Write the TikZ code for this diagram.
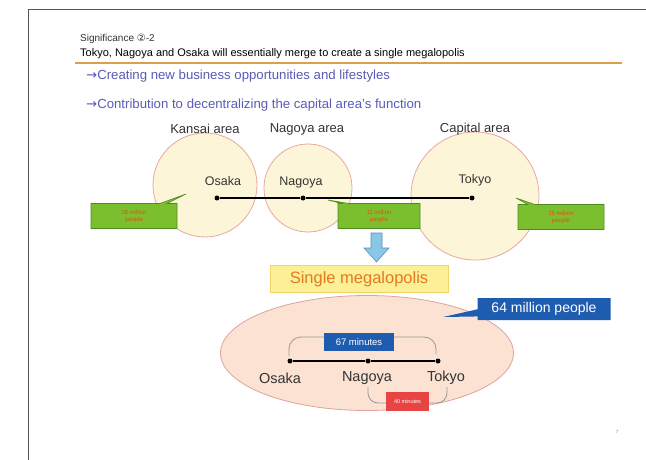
\documentclass[tikz,border=0pt]{standalone}
\usepackage{fontspec}
\setmainfont{Liberation Sans}
\newfontfamily\symfont{DejaVu Sans}
\usetikzlibrary{shapes.callouts,shapes.geometric}
\definecolor{framegray}{HTML}{555555}
\definecolor{rulecol}{HTML}{D9A050}
\definecolor{subblue}{HTML}{5B5BB8}
\definecolor{areafill}{HTML}{FDF5D8}
\definecolor{areadraw}{HTML}{E8A8A0}
\definecolor{callgreen}{HTML}{7CBF2E}
\definecolor{callgreendark}{HTML}{4E8A22}
\definecolor{calltext}{HTML}{E0501A}
\definecolor{arrowblue}{HTML}{86C8E6}
\definecolor{arrowdraw}{HTML}{5A8FB8}
\definecolor{megafill}{HTML}{FBF096}
\definecolor{megadraw}{HTML}{F2D46A}
\definecolor{megatext}{HTML}{E27A22}
\definecolor{ellfill}{HTML}{FBE2D2}
\definecolor{elldraw}{HTML}{E0A2A0}
\definecolor{bigblue}{HTML}{1E5CB0}
\definecolor{minred}{HTML}{E84444}
\definecolor{textgray}{HTML}{333333}
\definecolor{bracketgray}{HTML}{999999}
\tikzset{
  area/.style={circle, fill=areafill, draw=areadraw, line width=0.8pt},
  arealabel/.style={font=\fontsize{13}{15}\selectfont, text=textgray},
  citylabel/.style={font=\fontsize{12.5}{14}\selectfont, text=textgray},
  citylabelb/.style={font=\fontsize{14.5}{16}\selectfont, text=textgray},
  dot/.style={circle, fill=black, inner sep=0pt, minimum size=5pt},
  greencall/.style={rectangle callout, fill=callgreen, draw=callgreendark, line width=0.6pt,
    minimum width=86pt, minimum height=25pt, inner sep=1pt, align=center,
    font=\fontsize{6}{7}\selectfont, text=calltext},
  subline/.style={font=\fontsize{13.2}{15}\selectfont, text=subblue, anchor=west},
  bracket/.style={bracketgray, line width=0.8pt},
}
\begin{document}
\begin{tikzpicture}[x=1pt,y=-1pt]
\useasboundingbox (0,0) rectangle (646,460);
\fill[white] (0,0) rectangle (646,460);
% frame
\draw[framegray, line width=1pt] (28,460) -- (28,10) -- (646,10);
% titles
\node[anchor=west, font=\fontsize{10}{12}\selectfont, text=textgray, inner xsep=0pt] (sig) at (80,39) {Significance {\symfont ②}-2};
\node[anchor=west, font=\fontsize{11}{13}\selectfont, text=black, inner xsep=0pt] (ttl) at (80,54) {Tokyo, Nagoya and Osaka will essentially merge to create a single megalopolis};
\draw[rulecol, line width=1.2pt] (75,63) -- (622,63);
\node[subline, inner xsep=0pt] (s1) at (86,76) {{\symfont →}Creating new business opportunities and lifestyles};
\node[subline, inner xsep=0pt] (s2) at (86,105) {{\symfont →}Contribution to decentralizing the capital area's function};
% area circles
\node[area, minimum size=104pt] (kc) at (205,185) {};
\node[area, minimum size=88pt] (nc) at (308,188) {};
\node[area, minimum size=128pt] (tc) at (475,196) {};
\node[arealabel] (kl) at (205,129) {Kansai area};
\node[arealabel] (nl) at (307,129) {Nagoya area};
\node[arealabel] (tl) at (475,129) {Capital area};
\node[citylabel] (osl) at (223,181) {Osaka};
\node[citylabel] (ngl) at (301,182) {Nagoya};
\node[citylabel] (tkl) at (475,180) {Tokyo};
\node[dot] (od) at (217,198) {};
\node[dot] (nd) at (303,198) {};
\node[dot] (td) at (472,198) {};
\draw[line width=1.8pt] (od) -- (nd) -- (td);
% green callouts
\node[greencall, callout absolute pointer={(186,194)}] (c1) at (134,216) {18 million\\people};
\node[greencall, minimum width=82pt, callout absolute pointer={(328,200)}] (c2) at (379,216) {11 million\\people};
\node[greencall, callout absolute pointer={(516,198)}] (c3) at (561,217) {35 million\\people};
% down arrow
\draw[fill=arrowblue, draw=arrowdraw, line width=0.6pt]
  (371,233) -- (382,233) -- (382,248) -- (389,248) -- (376.5,262) -- (364,248) -- (371,248) -- cycle;
% single megalopolis
\node[fill=megafill, draw=megadraw, line width=0.6pt, minimum width=178pt, minimum height=27pt,
  font=\fontsize{16.5}{18}\selectfont, text=megatext] (mega) at (359,279) {Single megalopolis};
% big ellipse
\node[ellipse, fill=ellfill, draw=elldraw, line width=0.8pt, minimum width=293pt, minimum height=115pt] (ell) at (367,353) {};
% 64 million callout
\node[rectangle callout, fill=bigblue, minimum width=133pt, minimum height=22pt, inner sep=1pt,
  font=\fontsize{14}{16}\selectfont, text=white, callout absolute pointer={(443,317)}] (pop) at (544,309) {64 million people};
% brackets
\coordinate (bo) at (289,356);
\coordinate (bt) at (436,354);
\draw[bracket, rounded corners=12pt] (bo) -- (289,337) -- (436,337) -- (bt);
\coordinate (bn) at (368,387);
\coordinate (bk) at (447,387);
\draw[bracket, rounded corners=10pt] (bn) -- (368,403) -- (447,403) -- (bk);
% line
\node[dot] (od2) at (290,361) {};
\node[dot] (nd2) at (368,361) {};
\node[dot] (td2) at (438,361) {};
\draw[line width=1.1pt] (od2) -- (nd2) -- (td2);
\node[citylabelb] (osl2) at (280,378) {Osaka};
\node[citylabelb] (ngl2) at (367,378) {Nagoya};
\node[citylabelb] (tkl2) at (446,378) {Tokyo};
\node[fill=bigblue, minimum width=70pt, minimum height=18pt, inner sep=1pt,
  font=\fontsize{9.5}{11}\selectfont, text=white] (m67) at (359,342) {67 minutes};
\node[fill=minred, minimum width=43pt, minimum height=19pt, inner sep=1pt,
  font=\fontsize{5.5}{6.5}\selectfont, text=white] (m40) at (407.5,401.5) {40 minutes};
% page number
\node[font=\fontsize{4.5}{5}\selectfont, text=gray] (pg) at (617,432) {7};
\end{tikzpicture}
\end{document}
